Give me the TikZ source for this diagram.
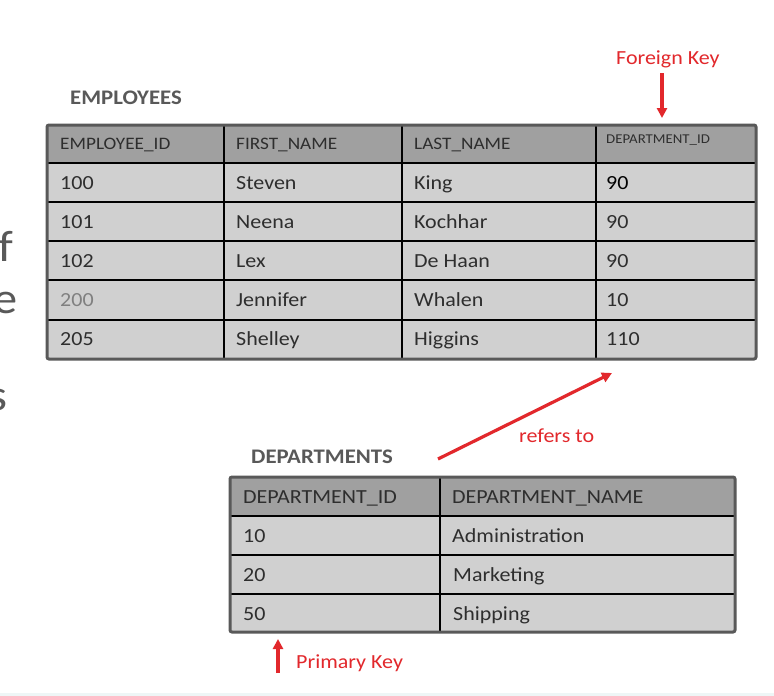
\documentclass[tikz,border=0pt]{standalone}
\usepackage{fontspec}
\setmainfont{Carlito}[FakeStretch=1.1]
\usetikzlibrary{arrows.meta}
\definecolor{hdr}{HTML}{A0A0A0}
\definecolor{bodyfill}{HTML}{D0D0D0}
\definecolor{frame}{HTML}{595959}
\definecolor{txt}{HTML}{2E2E2E}
\definecolor{ttl}{HTML}{595959}
\definecolor{keyred}{HTML}{E2282C}
\definecolor{strip}{HTML}{EEF6F6}
\begin{document}
\begin{tikzpicture}[x=1pt,y=-1pt,
  cell/.style={anchor=base west, inner sep=0pt, text=txt, font=\fontsize{20}{24}\selectfont},
  hcell/.style={cell, font=\fontsize{17.5}{21}\selectfont},
  title/.style={anchor=base west, inner sep=0pt, text=ttl, font=\bfseries\fontsize{20.7}{24}\selectfont},
  redlbl/.style={anchor=base west, inner sep=0pt, text=keyred, font=\fontsize{20}{24}\selectfont},
  redarrow/.style={draw=keyred, line width=3.2pt, -{Triangle[length=10pt,width=10pt]}},
  grid/.style={draw=black, line width=1.2pt},
  tframe/.style={draw=frame, line width=3pt, rounded corners=2pt},
  side/.style={anchor=base east, inner sep=0pt, text=ttl, font=\fontsize{44}{50}\selectfont}]
\useasboundingbox (0,0) rectangle (774,696);
\fill[white] (0,0) rectangle (774,696);
\fill[strip] (0,693) rectangle (774,696);

% cropped slide text at the left edge
\node[side] (sf) at (13,261) {f};
\node[side] (se) at (18,313) {e};
\node[side] (ss) at (8,410) {s};

% EMPLOYEES table
\node[title] (emptitle) at (70,104) {EMPLOYEES};
\fill[bodyfill] (47,125) rectangle (756,359);
\fill[hdr] (47,125) rectangle (756,163);
\foreach \y in {163,202,241,280,320} \draw[grid] (47,\y) -- (756,\y);
\foreach \x in {224,402,596} \draw[grid] (\x,125) -- (\x,359);
\draw[tframe] (47,125) rectangle (756,359);

\node[hcell] (eh1) at (60,149) {EMPLOYEE\_ID};
\node[hcell] (eh2) at (236,149) {FIRST\_NAME};
\node[hcell] (eh3) at (414,149) {LAST\_NAME};
\node[cell, font=\fontsize{13.5}{16}\selectfont] (eh4) at (606,143) {DEPARTMENT\_ID};

\node[cell] (e11) at (60,189) {100};
\node[cell] (e12) at (236,189) {Steven};
\node[cell] (e13) at (414,189) {King};
\node[cell, text=black] (e14) at (606,189) {90};
\node[cell] (e21) at (60,228) {101};
\node[cell] (e22) at (236,228) {Neena};
\node[cell] (e23) at (414,228) {Kochhar};
\node[cell] (e24) at (606,228) {90};
\node[cell] (e31) at (60,267) {102};
\node[cell] (e32) at (236,267) {Lex};
\node[cell] (e33) at (414,267) {De Haan};
\node[cell] (e34) at (606,267) {90};
\node[cell, text=gray] (e41) at (60,306) {200};
\node[cell] (e42) at (236,306) {Jennifer};
\node[cell] (e43) at (414,306) {Whalen};
\node[cell] (e44) at (606,306) {10};
\node[cell] (e51) at (60,345) {205};
\node[cell] (e52) at (236,345) {Shelley};
\node[cell] (e53) at (414,345) {Higgins};
\node[cell] (e54) at (606,345) {110};

% Foreign key
\node[redlbl] (fk) at (616,64) {Foreign Key};
\coordinate (fkA) at (662,73);
\coordinate (fkB) at (662,118);
\draw[redarrow] (fkA) -- (fkB);

% refers to
\node[redlbl] (ref) at (519,442) {refers to};
\coordinate (refA) at (438,459);
\coordinate (refB) at (612,373);
\draw[redarrow] (refA) -- (refB);

% DEPARTMENTS table
\node[title] (deptitle) at (251,463) {DEPARTMENTS};
\fill[bodyfill] (230,477) rectangle (735,632);
\fill[hdr] (230,477) rectangle (735,516);
\foreach \y in {516,555,594} \draw[grid] (230,\y) -- (735,\y);
\draw[grid] (440,477) -- (440,632);
\draw[tframe] (230,477) rectangle (735,632);

\node[cell] (dh1) at (243,503) {DEPARTMENT\_ID};
\node[cell] (dh2) at (452,503) {DEPARTMENT\_NAME};
\node[cell] (d11) at (243,542) {10};
\node[cell] (d12) at (452,542) {Administration};
\node[cell] (d21) at (243,581) {20};
\node[cell] (d22) at (453,581) {Marketing};
\node[cell] (d31) at (243,620) {50};
\node[cell] (d32) at (453,620) {Shipping};

% Primary key
\node[redlbl] (pk) at (296,668) {Primary Key};
\coordinate (pkA) at (278,673);
\coordinate (pkB) at (278,639);
\draw[redarrow] (pkA) -- (pkB);
\end{tikzpicture}
\end{document}
